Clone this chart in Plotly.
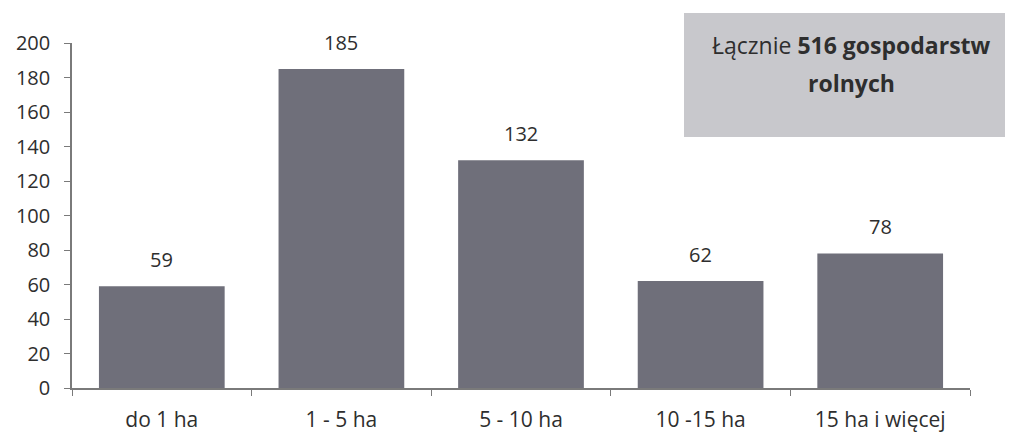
import plotly.graph_objects as go

# Farm size groups and number of farms in each
categories = ["do 1 ha", "1 - 5 ha", "5 - 10 ha", "10 -15 ha", "15 ha i więcej"]
farms = [59, 185, 132, 62, 78]
y_ticks = [0, 20, 40, 60, 80, 100, 120, 140, 160, 180, 200]
note_lines = ["Łącznie <b>516 gospodarstw</b>", "<b>rolnych</b>"]

FONT = "'Open Sans', 'Noto Sans', sans-serif"
TEXT = "#2e2e2e"
BAR = "#6f6f7a"
AXIS = "#7a7a7a"

W, H = 1009, 432
L, R, T, B = 72, 39, 43, 44
PW, PH = W - L - R, H - T - B


def px(x):
    return (x - L) / PW


def py(y):
    return (H - B - y) / PH


fig = go.Figure(
    go.Bar(
        x=categories,
        y=farms,
        marker=dict(color=BAR, line=dict(width=0)),
        hoverinfo="x+y",
    )
)

# Value labels above each bar
for cat, val in zip(categories, farms):
    fig.add_annotation(
        x=cat, y=val, text=str(val), showarrow=False,
        yanchor="bottom", yshift=11,
        font=dict(family=FONT, size=20, color=TEXT),
    )

# Summary box in the upper right corner
fig.add_shape(
    type="rect", xref="paper", yref="paper",
    x0=px(684), x1=px(1005), y0=py(137), y1=py(13),
    fillcolor="#c8c8cc", line=dict(width=0), layer="below",
)
for line, yc in zip(note_lines, [45, 83]):
    fig.add_annotation(
        xref="paper", yref="paper", x=px(851), y=py(yc),
        xanchor="center", yanchor="middle",
        text=line, showarrow=False, align="center",
        font=dict(family=FONT, size=23, color=TEXT),
    )

fig.update_layout(
    width=W, height=H,
    margin=dict(l=L, r=R, t=T, b=B),
    paper_bgcolor="white", plot_bgcolor="white",
    bargap=0.3, showlegend=False,
    font=dict(family=FONT, size=20, color=TEXT),
)
fig.update_xaxes(
    type="category", automargin=False,
    showline=True, linecolor=AXIS, linewidth=1.5,
    ticks="outside", tickson="boundaries", ticklen=6, tickcolor=AXIS,
    ticklabelstandoff=12,
    showgrid=False, zeroline=False,
    tickfont=dict(family=FONT, size=21, color=TEXT),
)
fig.update_yaxes(
    range=[0, 200], tickvals=y_ticks, automargin=False,
    showline=True, linecolor=AXIS, linewidth=1.5,
    ticks="outside", ticklen=6, tickcolor=AXIS,
    ticklabelstandoff=10,
    showgrid=False, zeroline=False,
    tickfont=dict(family=FONT, size=20, color=TEXT),
)

fig.write_html("out.html")
